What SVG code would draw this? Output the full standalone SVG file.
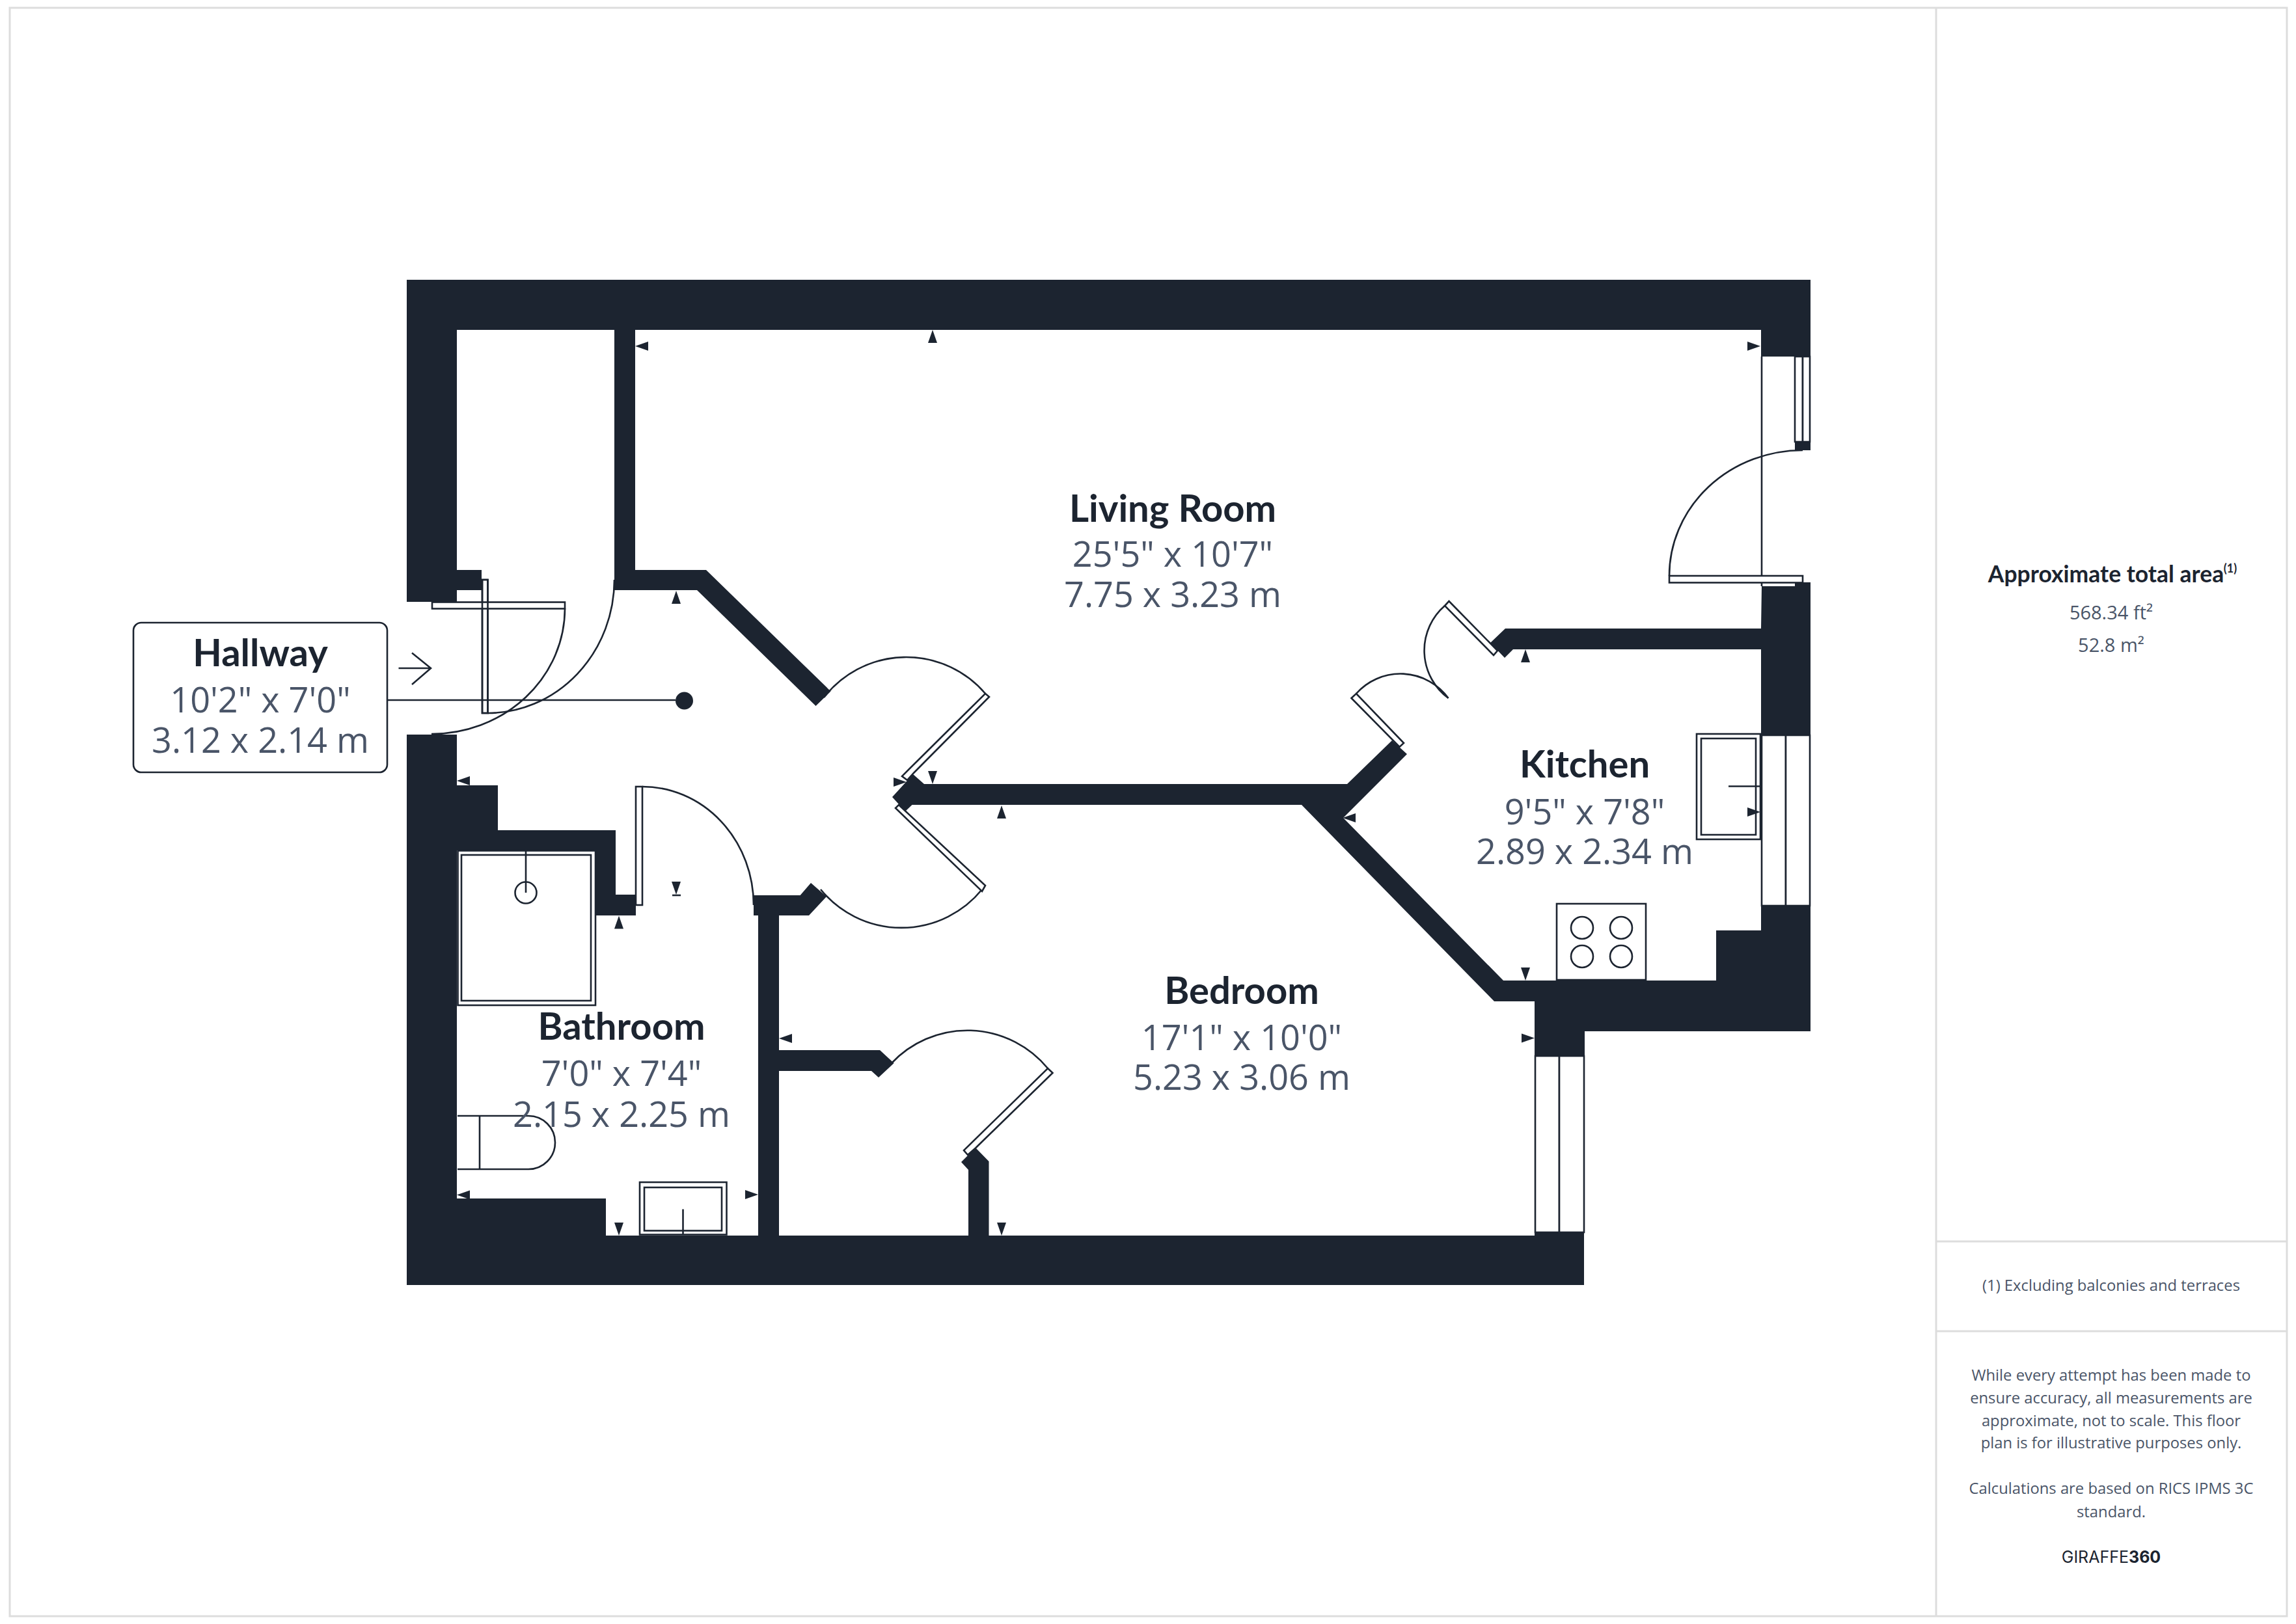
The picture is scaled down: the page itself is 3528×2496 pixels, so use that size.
<svg xmlns="http://www.w3.org/2000/svg" width="3528" height="2496" viewBox="0 0 3528 2496">
<style>
.w{fill:#1c2430}
.l{fill:none;stroke:#1c2430;stroke-width:2.6}
.f{fill:#fff;stroke:#1c2430;stroke-width:2.6}
.t{font-family:"Lato","Liberation Sans",sans-serif;font-weight:700;font-size:58px;fill:#1c2430;text-anchor:middle}
.d{font-family:"Open Sans","Noto Sans",sans-serif;font-weight:400;font-size:54px;fill:#4a5568;text-anchor:middle}
.s{font-family:"Open Sans","Noto Sans",sans-serif;font-size:23.8px;fill:#4a5568;text-anchor:middle}
.a{font-family:"Open Sans","Noto Sans",sans-serif;font-size:29px;fill:#4a5568;text-anchor:middle}
.b{stroke:#ddd;stroke-width:3;fill:none}
</style>
<defs>
<polygon id="ar" points="0,0 -7,20 7,20" fill="#1c2430"/>
</defs>
<rect width="3528" height="2496" fill="#fff"/>
<g id="frame">
<rect class="b" x="15" y="12" width="3499" height="2472"/>
<path class="b" d="M2975,12V2484M2975,1908H3514M2975,2046H3514"/>
</g>
<g id="walls">
<path class="w" d="M625,430H2782V548H2706V507H976V876H1085L1276.5,1062.5L1253.5,1085L1071,907H944V507H702V876H740V907H702V925H625Z"/>
<rect class="w" x="2758" y="679" width="24" height="13"/>
<path class="w" d="M2707,901H2758V895H2782V1130H2706V998H2325L2312,1011L2290,988L2313,966H2706Z"/>
<path class="w" d="M2782,1392V1585H2435V1623H2358V1539H2296L2000,1237H1401.5L1391,1247L1371,1225L1403,1190L1420,1205H2070L2139,1138L2162,1159L2064,1257L2310,1507H2637V1430H2706V1392Z"/>
<path class="w" d="M625,1129H702V1207H765V1276H946V1375H977V1407H915V1307H702V1842H931V1899H1165V1407H1158V1376H1229.6L1246,1357L1270,1378L1243,1407H1197V1614H1352L1373.6,1634L1350,1656L1339,1646H1197V1899H1488V1798L1477,1786L1499,1764L1519.5,1785V1899H2358V1894H2434V1975H625Z"/>
</g>
<g id="windows">
<path class="l" d="M2707,548V901"/>
<rect class="f" x="2758" y="548" width="12" height="131"/>
<rect class="f" x="2770" y="548" width="11" height="131"/>
<rect class="f" x="2707" y="1130" width="37" height="262"/>
<rect class="f" x="2744" y="1130" width="37" height="262"/>
<rect class="f" x="2359" y="1623" width="37" height="271"/>
<rect class="f" x="2396" y="1623" width="38" height="271"/>
</g>
<g id="doors">
<path class="l" d="M749.5,1096A195,205 0 0 0 944,891"/>
<rect class="f" x="741" y="891" width="8.5" height="205"/>
<path class="l" d="M868,935A205,193 0 0 1 663,1128"/>
<rect class="f" x="664" y="925.5" width="204" height="10"/>
<path class="l" d="M741,891V1096H749.5V891Z"/>
<path class="l" d="M987,1209A171,182 0 0 1 1158,1391"/>
<rect class="f" x="977" y="1209" width="10" height="182"/>
<path class="l" d="M2565,885A205,193 0 0 1 2770,692"/>
<rect class="f" x="2565" y="885" width="205" height="10.5"/>
<path class="l" d="M1266,1072A160,160 0 0 1 1514,1066"/>
<path class="f" d="M1514,1066L1520,1071L1404,1188L1394,1199L1386,1193L1398,1181Z"/>
<path class="l" d="M1261,1367A160,160 0 0 0 1509,1367"/>
<path class="f" d="M1514,1361L1509,1370L1376,1242L1381,1237Z"/>
<path class="l" d="M1370,1634A160,160 0 0 1 1610,1642"/>
<path class="f" d="M1610,1642L1617.5,1649L1499.5,1764L1487,1775L1481,1768Z"/>
<path class="l" d="M2220,931A91,91 0 0 0 2225.5,1073"/>
<path class="f" d="M2226.5,924L2220,931L2295,1007L2301,1000Z"/>
<path class="l" d="M2084,1066A91,91 0 0 1 2225.5,1073"/>
<path class="f" d="M2076.5,1073L2084,1066L2157,1142L2150.5,1148Z"/>
</g>
<g id="fixtures">
<rect class="f" x="703.5" y="1307.5" width="211.5" height="237.5"/>
<rect class="l" x="709" y="1314" width="199" height="224"/>
<path class="l" d="M808,1307V1372"/>
<circle class="l" cx="808" cy="1372" r="16.5"/>
<path class="l" d="M703,1715H812A41,41 0 0 1 812,1797H703M737,1715V1797"/>
<rect class="f" x="983" y="1817" width="133.500" height="80.500"/>
<rect class="l" x="990" y="1825" width="119" height="66.500"/>
<path class="l" d="M1049.5,1858.500V1897"/>
<rect class="f" x="2607" y="1128" width="98" height="162"/>
<rect class="l" x="2614" y="1135" width="84" height="148"/>
<path class="l" d="M2656,1208.500H2705"/>
<rect class="f" x="2392" y="1389" width="137" height="117"/>
<circle class="l" cx="2431" cy="1426" r="17"/>
<circle class="l" cx="2491" cy="1426" r="17"/>
<circle class="l" cx="2431" cy="1470" r="17"/>
<circle class="l" cx="2491" cy="1470" r="17"/>
</g>
<g id="dimension-ticks">
<use href="#ar" transform="translate(976,532) rotate(-90)"/>
<use href="#ar" transform="translate(1433,507)"/>
<use href="#ar" transform="translate(2705,532) rotate(90)"/>
<use href="#ar" transform="translate(1039,908)"/>
<use href="#ar" transform="translate(1433,1205) rotate(180)"/>
<use href="#ar" transform="translate(1393,1202) rotate(90)"/>
<use href="#ar" transform="translate(1539,1238)"/>
<use href="#ar" transform="translate(1039,1375) rotate(180)"/>
<path class="l" d="M1033,1376H1046"/>
<use href="#ar" transform="translate(951,1407.500)"/>
<use href="#ar" transform="translate(702,1200) rotate(-90)"/>
<use href="#ar" transform="translate(702,1836.500) rotate(-90)"/>
<use href="#ar" transform="translate(1165,1836) rotate(90)"/>
<use href="#ar" transform="translate(951,1899) rotate(180)"/>
<use href="#ar" transform="translate(1197,1596) rotate(-90)"/>
<use href="#ar" transform="translate(1539,1899) rotate(180)"/>
<use href="#ar" transform="translate(2358,1595.500) rotate(90)"/>
<use href="#ar" transform="translate(2063,1257) rotate(-90)"/>
<use href="#ar" transform="translate(2705,1248) rotate(90)"/>
<use href="#ar" transform="translate(2344,1507) rotate(180)"/>
<use href="#ar" transform="translate(2344,998)"/>
</g>
<g id="connectors">
<path class="l" d="M596,1076H1038"/>
<circle cx="1051.500" cy="1077" r="13.500" fill="#1c2430"/>
<path class="l" d="M612.500,1027H662M633,1003.500L662,1027L633,1052"/>
</g>
<g id="node-hallway">
<rect x="205" y="957" width="390" height="230" rx="12" fill="#fff" stroke="#1c2430" stroke-width="2.600"/>
<text class="t" x="400" y="1024">Hallway</text>
<text class="d" x="400" y="1095">10'2" x 7'0"</text>
<text class="d" x="400" y="1157">3.12 x 2.14 m</text>
</g>
<g id="node-living-room">
<text class="t" x="1802" y="802">Living Room</text>
<text class="d" x="1802" y="871">25'5" x 10'7"</text>
<text class="d" x="1802" y="933">7.75 x 3.23 m</text>
</g>
<g id="node-kitchen">
<text class="t" x="2435" y="1195">Kitchen</text>
<text class="d" x="2435" y="1267">9'5" x 7'8"</text>
<text class="d" x="2435" y="1328">2.89 x 2.34 m</text>
</g>
<g id="node-bedroom">
<text class="t" x="1908" y="1543">Bedroom</text>
<text class="d" x="1908" y="1614">17'1" x 10'0"</text>
<text class="d" x="1908" y="1675">5.23 x 3.06 m</text>
</g>
<g id="node-bathroom">
<text class="t" x="955" y="1598">Bathroom</text>
<text class="d" x="955" y="1669">7'0" x 7'4"</text>
<text class="d" x="955" y="1732">2.15 x 2.25 m</text>
</g>
<g id="panel">
<text x="3236" y="895" style="font-family:Lato,'Liberation Sans',sans-serif;font-weight:700;font-size:35.500px;fill:#1c2430;text-anchor:middle">Approximate total area</text>
<text x="3427" y="880" style="font-family:Lato,'Liberation Sans',sans-serif;font-weight:700;font-size:18px;fill:#1c2430;text-anchor:middle">(1)</text>
<text class="a" x="3244" y="952">568.34 ft²</text>
<text class="a" x="3244" y="1002">52.8 m²</text>
<text class="s" x="3244" y="1984">(1) Excluding balconies and terraces</text>
<text class="s" x="3244" y="2122">While every attempt has been made to</text>
<text class="s" x="3244" y="2157">ensure accuracy, all measurements are</text>
<text class="s" x="3244" y="2192">approximate, not to scale. This floor</text>
<text class="s" x="3244" y="2226">plan is for illustrative purposes only.</text>
<text class="s" x="3244" y="2296">Calculations are based on RICS IPMS 3C</text>
<text class="s" x="3244" y="2332">standard.</text>
<text x="3244" y="2402" style="font-family:Inter,'Liberation Sans',sans-serif;font-size:25px;fill:#1c2430;text-anchor:middle">GIRAFFE<tspan font-weight="700">360</tspan></text>
</g>
</svg>
